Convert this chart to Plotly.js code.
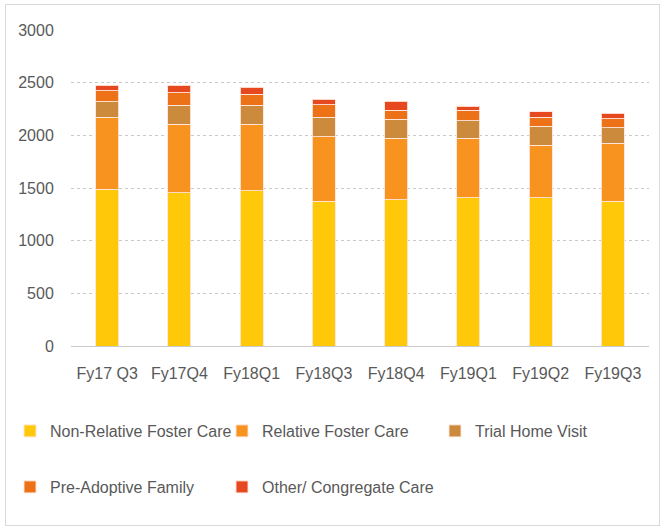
<!DOCTYPE html>
<html>
<head>
<meta charset="utf-8">
<script src="https://cdn.plot.ly/plotly-3.0.1.min.js"></script>
<style>
html,body{margin:0;padding:0;background:#fff;}
#chart{width:664px;height:529px;position:relative;}
#frame{position:absolute;left:5px;top:4px;width:653px;height:520px;border:1px solid #d9d9d9;pointer-events:none;}
</style>
</head>
<body>
<div id="chart"></div>
<div id="frame"></div>
<script>
const quarters = ["Fy17 Q3","Fy17Q4","Fy18Q1","Fy18Q3","Fy18Q4","Fy19Q1","Fy19Q2","Fy19Q3"];
const nonRelativeFosterCare = [1490,1455,1472,1374,1389,1408,1408,1374];
const relativeFosterCare    = [680,649,632,613,583,564,497,550];
const trialHomeVisit        = [148,183,183,184,183,167,183,148];
const preAdoptiveFamily     = [104,117,102,119,82,98,86,85];
const otherCongregateCare   = [54,73,66,51,88,41,50,52];

const seriesNames = ["Non-Relative Foster Care","Relative Foster Care","Trial Home Visit","Pre-Adoptive Family","Other/ Congregate Care"];
const seriesValues = [nonRelativeFosterCare, relativeFosterCare, trialHomeVisit, preAdoptiveFamily, otherCongregateCare];
const seriesColors = ["#FFC90A","#F7931E","#CC8A3C","#EC7117","#E6491F"];

const FONT = '"Liberation Sans", Arial, sans-serif';
const TXT = '#595959';

// one legend per entry so each can sit where the reference places it
const legendIds = ["legend","legend2","legend3","legend4","legend5"];
const legendX = [10, 222, 435, 10, 222];
const legendY = [431, 431, 431, 487, 487];

const traces = seriesNames.map((n,i)=>({
  type:'bar', name:n, x:quarters, y:seriesValues[i],
  marker:{color:seriesColors[i], line:{color:'rgba(255,230,220,0.9)', width:1}},
  legend:legendIds[i]
}));

const layout = {
  width:664, height:529,
  margin:{l:71, r:15, t:30, b:183},
  barmode:'stack', bargap:0.68,
  paper_bgcolor:'#fff', plot_bgcolor:'#fff',
  font:{family:FONT, size:16, color:TXT},
  xaxis:{type:'category', showgrid:false, zeroline:false, showline:false, tickangle:0,
         ticks:'outside', ticklen:13, tickcolor:'rgba(0,0,0,0)',
         tickfont:{family:FONT, size:16, color:TXT}},
  yaxis:{range:[0,3000], dtick:500, tick0:0, showgrid:true, gridcolor:'#c9c9c9', griddash:'dot', gridwidth:1,
         zeroline:true, zerolinecolor:'#c9c9c9', zerolinewidth:1, showline:false,
         ticks:'outside', ticklen:13, tickcolor:'rgba(0,0,0,0)',
         tickfont:{family:FONT, size:16, color:TXT}},
  showlegend:true
};
legendIds.forEach((id,i)=>{
  layout[id] = {
    orientation:'h', xref:'container', yref:'container',
    xanchor:'left', yanchor:'middle',
    x:legendX[i]/664, y:1-legendY[i]/529,
    font:{family:FONT, size:16, color:TXT}, bgcolor:'rgba(0,0,0,0)'
  };
});

Plotly.newPlot('chart', traces, layout, {displayModeBar:false, staticPlot:true});
</script>
</body>
</html>
